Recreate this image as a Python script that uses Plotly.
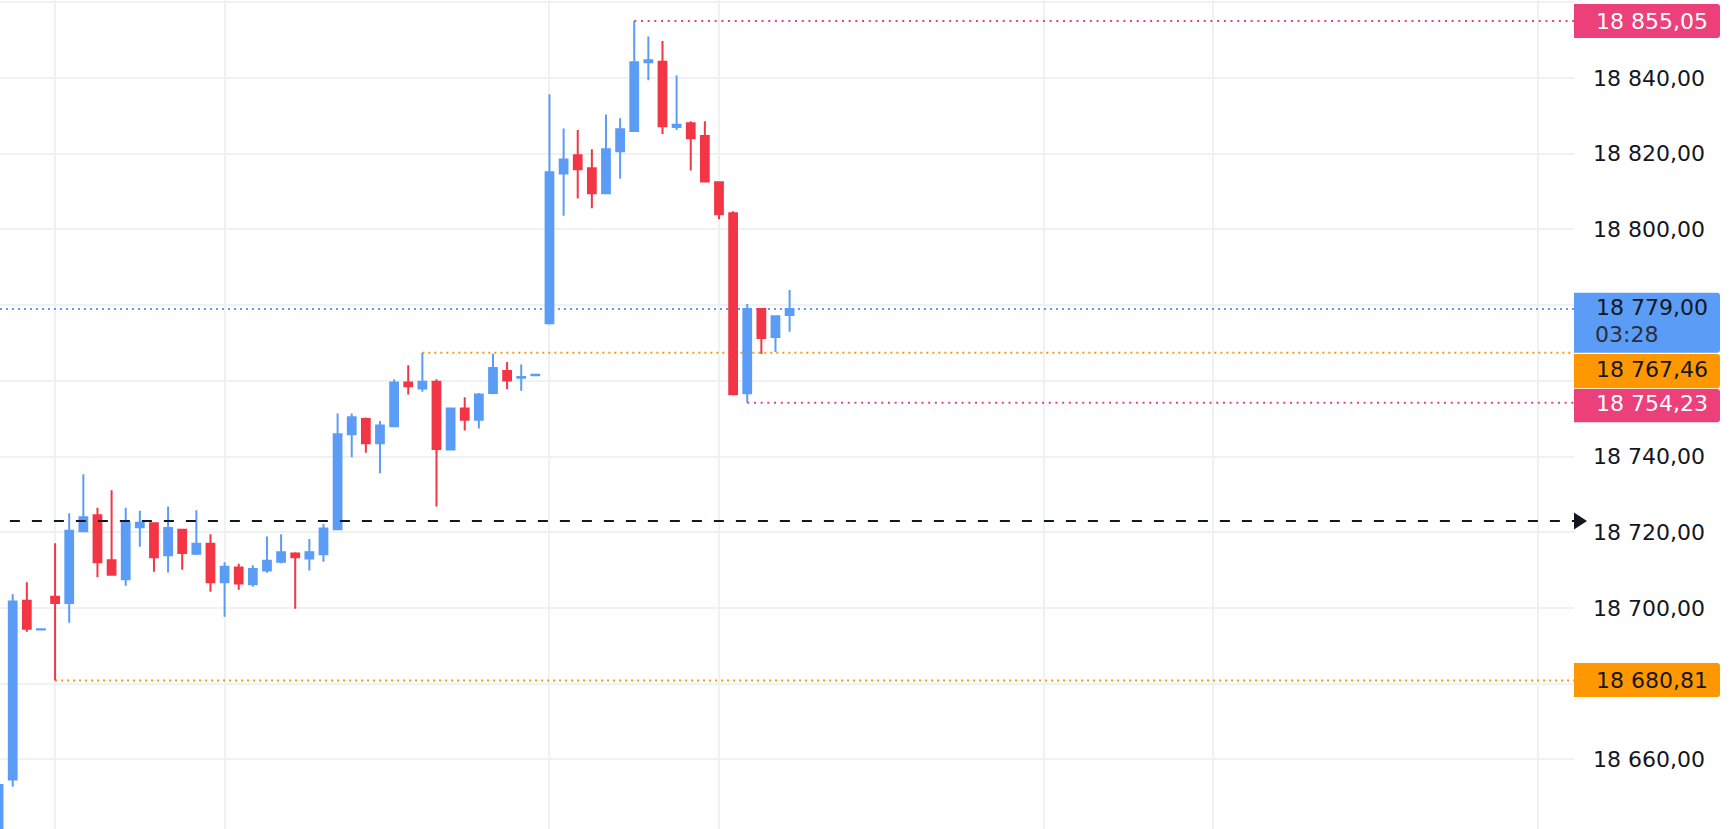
import plotly.graph_objects as go

# 5-minute candles, oldest first (index 0 is cut by the left edge)
idx = list(range(57))
opens = [18634.0, 18654.7, 18701.9, 18694.3, 18703.0, 18701.3, 18720.3, 18724.5, 18712.6, 18707.6,
         18721.3, 18722.4, 18713.9, 18720.7, 18714.3, 18717.0, 18706.8, 18710.7, 18706.3, 18709.9,
         18712.2, 18714.4, 18713.1, 18714.2, 18720.8, 18745.9, 18749.9, 18743.5, 18748.0, 18759.6,
         18758.0, 18759.8, 18741.9, 18752.7, 18749.7, 18756.8, 18762.6, 18760.8, 18761.5, 18775.2,
         18814.8, 18819.6, 18816.2, 18809.6, 18820.7, 18826.0, 18844.2, 18844.3, 18827.1, 18828.1,
         18824.7, 18812.5, 18804.3, 18756.7, 18779.0, 18771.6, 18777.4]
highs = [18653.5, 18703.6, 18706.8, 18694.5, 18717.1, 18725.0, 18735.3, 18726.5, 18731.1, 18726.5,
         18725.7, 18722.6, 18726.8, 18720.9, 18725.8, 18719.5, 18712.1, 18711.7, 18711.3, 18718.9,
         18719.5, 18714.7, 18718.2, 18722.2, 18751.4, 18751.4, 18750.3, 18749.4, 18760.4, 18764.1,
         18767.46, 18760.4, 18753.0, 18755.7, 18756.8, 18767.2, 18765.0, 18764.3, 18761.7, 18835.7,
         18826.7, 18826.3, 18821.2, 18830.4, 18829.4, 18855.05, 18851.0, 18849.8, 18840.7, 18828.6,
         18828.6, 18812.7, 18804.8, 18780.3, 18779.2, 18777.3, 18784.0]
lows = [18632.0, 18652.8, 18693.7, 18694.1, 18680.81, 18696.1, 18720.1, 18708.1, 18708.5, 18705.9,
        18716.2, 18709.6, 18709.4, 18710.1, 18714.0, 18704.3, 18697.7, 18704.8, 18705.6, 18709.3,
        18711.8, 18699.8, 18709.9, 18712.2, 18720.6, 18739.8, 18741.0, 18735.6, 18747.9, 18756.4,
        18757.1, 18726.8, 18741.7, 18746.9, 18747.4, 18756.5, 18757.8, 18757.4, 18761.4, 18774.9,
        18803.6, 18808.2, 18805.6, 18809.4, 18813.5, 18825.8, 18839.4, 18825.2, 18826.3, 18815.6,
        18812.5, 18802.7, 18756.3, 18754.23, 18767.1, 18767.6, 18773.0]
closes = [18653.2, 18701.7, 18694.5, 18694.4, 18701.3, 18720.4, 18724.0, 18712.1, 18708.8, 18722.5,
          18722.5, 18713.4, 18721.1, 18714.5, 18717.0, 18706.8, 18710.9, 18706.5, 18710.3, 18712.5,
          18714.7, 18713.4, 18714.7, 18721.0, 18745.9, 18750.4, 18743.5, 18748.2, 18759.6, 18758.6,
          18759.8, 18742.0, 18752.7, 18749.7, 18756.4, 18763.4, 18760.1, 18761.0, 18761.6, 18815.1,
          18818.5, 18815.9, 18809.6, 18821.2, 18826.5, 18844.2, 18844.7, 18827.3, 18827.7, 18824.1,
          18812.7, 18804.0, 18756.5, 18779.0, 18771.3, 18777.1, 18779.0]

time_grid = [4, 16, 39, 51, 74, 86, 109]
price_ticks = list(range(18640, 18861, 20))
hidden_ticks = [18680, 18760, 18780]  # sit under the price badges

last_price = 18779.00
countdown = "03:28"
avg_price = 18723.0
avg_start = 0.8
# (price, candle where the marker line starts)
high_hi, high_hi_at = 18855.05, 45
low_hi, low_hi_at = 18754.23, 53
high_lo, high_lo_at = 18767.46, 30
low_lo, low_lo_at = 18680.81, 4

UP = "#5B9CF6"
DOWN = "#F23645"
PINK = "#EC407A"
ORANGE = "#FF9800"
INK = "#131722"
GRID = "#F0F1F3"
FONT = "DejaVu Sans"

x_range = [0.10, 111.53]
y_range = [18637.38, 18860.63]


def price_text(v):
    return f"{v:,.2f}".replace(",", " ").replace(".", ",")


tick_text = ["" if v in hidden_ticks else price_text(v) for v in price_ticks]

fig = go.Figure()
fig.add_trace(go.Candlestick(
    x=idx, open=opens, high=highs, low=lows, close=closes,
    increasing=dict(line=dict(color=UP, width=2), fillcolor=UP),
    decreasing=dict(line=dict(color=DOWN, width=2), fillcolor=DOWN),
    whiskerwidth=0, showlegend=False, hoverinfo="skip",
))

shapes = []


def hline(y, x0, color, dash, layer="between"):
    shapes.append(dict(type="line", xref="x", yref="y", x0=x0, x1=x_range[1], y0=y, y1=y,
                       line=dict(color=color, width=2, dash=dash), layer=layer))


hline(last_price, x_range[0], UP, "2px,4px")
hline(high_hi, high_hi_at, PINK, "2px,4.7px")
hline(low_hi, low_hi_at, PINK, "2px,4.7px")
hline(high_lo, high_lo_at, ORANGE, "2px,4px")
hline(low_lo, low_lo_at, ORANGE, "2px,4px")
hline(avg_price, avg_start, INK, "10px,12px", layer="above")

# arrow head at the end of the dashed line
shapes.append(dict(type="path", xref="paper", xsizemode="pixel", xanchor=1,
                   yref="y", ysizemode="pixel", yanchor=avg_price,
                   path="M0,8.5 L13,0 L0,-8.5 Z", fillcolor=INK, line=dict(width=0),
                   layer="above"))


def box_path(top, bottom, w=146, r=3):
    return (f"M0,{top} H{w - r} Q{w},{top} {w},{top - r} V{bottom + r} "
            f"Q{w},{bottom} {w - r},{bottom} H0 Z")


# price, background, text colour, box top, box bottom, text shift (px, up positive)
labels = [
    (high_hi, PINK, "white", 17, -17, 0),
    (last_price, UP, INK, 16.3, -43.7, 1.3),
    (high_lo, ORANGE, INK, -1.3, -35.6, -16.6),
    (low_hi, PINK, "white", 13.7, -19.6, -0.6),
    (low_lo, ORANGE, INK, 17.6, -16.4, 0.6),
]

annotations = []
for price, bg, fg, top, bottom, shift in labels:
    shapes.append(dict(type="path", xref="paper", xsizemode="pixel", xanchor=1,
                       yref="y", ysizemode="pixel", yanchor=price,
                       path=box_path(top, bottom), fillcolor=bg, line=dict(width=0),
                       layer="above"))
    annotations.append(dict(text=price_text(price), xref="paper", x=1, xanchor="left", xshift=20,
                            yref="y", y=price, yanchor="middle", yshift=shift,
                            showarrow=False, font=dict(family=FONT, size=22, color=fg)))

annotations.append(dict(text=countdown, xref="paper", x=1, xanchor="left", xshift=19,
                        yref="y", y=last_price, yanchor="middle", yshift=-26,
                        showarrow=False, font=dict(family=FONT, size=22, color="#2A2E39")))

fig.update_layout(
    template="none",
    width=1730, height=845,
    margin=dict(l=0, r=156, t=0, b=0),
    paper_bgcolor="white", plot_bgcolor="white",
    font=dict(family=FONT, size=22, color=INK),
    boxgap=0.45, boxgroupgap=0,
    shapes=shapes, annotations=annotations,
    showlegend=False,
    xaxis=dict(range=x_range, tickvals=time_grid, showticklabels=False, ticks="",
               showgrid=True, gridcolor=GRID, gridwidth=2, zeroline=False, showline=False,
               rangeslider=dict(visible=False), automargin=False, fixedrange=True),
    yaxis=dict(range=y_range, side="right", tickvals=price_ticks, ticktext=tick_text,
               ticks="", ticklabelstandoff=18, showgrid=True, gridcolor=GRID, gridwidth=2,
               zeroline=False, showline=False, automargin=False, fixedrange=True,
               tickfont=dict(family=FONT, size=22, color=INK)),
)

fig.write_html("out.html", config={"displayModeBar": False},
               post_script="document.body.style.margin='0';document.body.style.overflow='hidden';")
